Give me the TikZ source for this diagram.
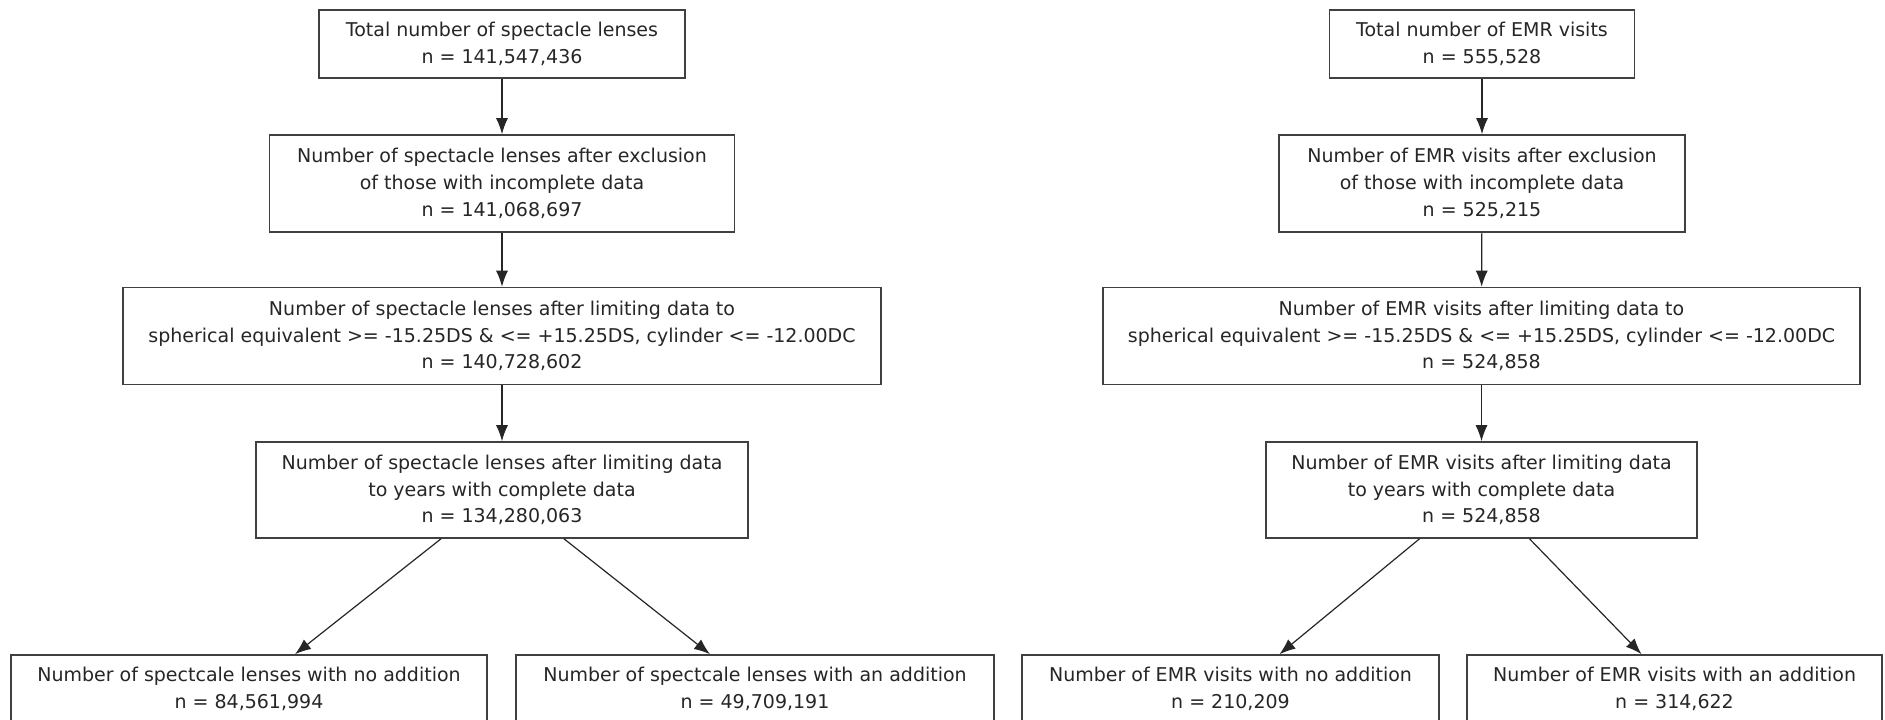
\documentclass[tikz,border=0pt]{standalone}
\usepackage{fontspec}
\setmainfont{DejaVu Sans}
\usetikzlibrary{arrows.meta}
\begin{document}
\begin{tikzpicture}[x=1pt,y=-1pt,
  box/.style={draw=black!75, line width=1.6pt, rectangle, inner sep=0pt, align=center,
    font=\fontsize{19}{26.7}\selectfont, text=black!85},
  arr/.style={draw=black!85, line width=1.2pt, -{Latex[length=16pt,width=12pt]}}]
\useasboundingbox[fill=white] (0,0) rectangle (1885,720);
% left column
\node[box, minimum width=366pt, minimum height=68pt] (L1) at (502,44) {Total number of spectacle lenses\\n = 141,547,436};
\node[box, minimum width=465pt, minimum height=97pt] (L2) at (502,183.5) {Number of spectacle lenses after exclusion\\of those with incomplete data\\n = 141,068,697};
\node[box, minimum width=758pt, minimum height=97pt] (L3) at (502,336) {Number of spectacle lenses after limiting data to\\spherical equivalent >= -15.25DS \& <= +15.25DS, cylinder <= -12.00DC\\n = 140,728,602};
\node[box, minimum width=492pt, minimum height=96pt] (L4) at (502,490) {Number of spectacle lenses after limiting data\\to years with complete data\\n = 134,280,063};
\node[box, minimum width=476pt, minimum height=68pt] (L5) at (249,689) {Number of spectcale lenses with no addition\\n = 84,561,994};
\node[box, minimum width=478pt, minimum height=68pt] (L6) at (755,689) {Number of spectcale lenses with an addition\\n = 49,709,191};
% right column
\node[box, minimum width=305pt, minimum height=68pt] (R1) at (1482,44) {Total number of EMR visits\\n = 555,528};
\node[box, minimum width=406pt, minimum height=97pt] (R2) at (1482,183.5) {Number of EMR visits after exclusion\\of those with incomplete data\\n = 525,215};
\node[box, minimum width=757pt, minimum height=97pt] (R3) at (1481.5,336) {Number of EMR visits after limiting data to\\spherical equivalent >= -15.25DS \& <= +15.25DS, cylinder <= -12.00DC\\n = 524,858};
\node[box, minimum width=431pt, minimum height=96pt] (R4) at (1481.5,490) {Number of EMR visits after limiting data\\to years with complete data\\n = 524,858};
\node[box, minimum width=417pt, minimum height=68pt] (R5) at (1230.5,689) {Number of EMR visits with no addition\\n = 210,209};
\node[box, minimum width=415pt, minimum height=68pt] (R6) at (1674.5,689) {Number of EMR visits with an addition\\n = 314,622};
% arrows
\draw[arr] (L1) -- (L2);
\draw[arr] (L2) -- (L3);
\draw[arr] (L3) -- (L4);
\draw[arr] ([xshift=-61pt]L4.south) -- ([xshift=46pt]L5.north);
\draw[arr] ([xshift=62pt]L4.south) -- ([xshift=-45pt]L6.north);
\draw[arr] (R1) -- (R2);
\draw[arr] (R2) -- (R3);
\draw[arr] (R3) -- (R4);
\draw[arr] ([xshift=-62pt]R4.south) -- ([xshift=49pt]R5.north);
\draw[arr] ([xshift=48pt]R4.south) -- ([xshift=-33pt]R6.north);
\end{tikzpicture}
\end{document}
